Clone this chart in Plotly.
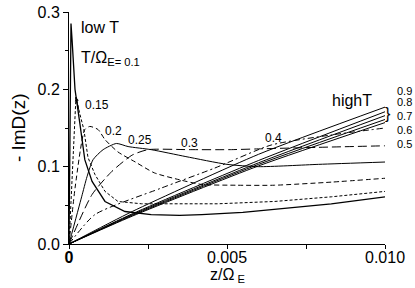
import plotly.graph_objects as go

# ---- data (z/Omega_E, -ImD(z)) ----
z_t010 = [0, 0.000063, 0.0001, 0.00013, 0.00019, 0.00035, 0.0005, 0.00073, 0.00114, 0.00177, 0.0026, 0.0035, 0.0042, 0.0055, 0.0065, 0.0083, 0.01]
v_t010 = [0, 0.285, 0.262, 0.238, 0.2, 0.154, 0.109, 0.081, 0.055, 0.042, 0.038, 0.037, 0.038, 0.041, 0.045, 0.052, 0.061]

z_t015 = [0, 0.00022, 0.00035, 0.00047, 0.0006, 0.00082, 0.00114, 0.00155, 0.0023, 0.0031, 0.0047, 0.0065, 0.0083, 0.01]
v_t015 = [0, 0.19, 0.167, 0.148, 0.112, 0.09, 0.068, 0.055, 0.052, 0.052, 0.052, 0.055, 0.061, 0.068]

z_t020 = [0, 0.0002, 0.0005, 0.00066, 0.00092, 0.00114, 0.00155, 0.0021, 0.0027, 0.0035, 0.0042, 0.0053, 0.0065, 0.0083, 0.01]
v_t020 = [0, 0.075, 0.148, 0.152, 0.148, 0.135, 0.119, 0.106, 0.092, 0.083, 0.077, 0.076, 0.076, 0.08, 0.085]

z_t025 = [0, 0.0004, 0.00057, 0.00076, 0.00108, 0.0015, 0.00187, 0.0026, 0.0037, 0.005, 0.006, 0.0079, 0.01]
v_t025 = [0, 0.061, 0.087, 0.109, 0.122, 0.13, 0.126, 0.122, 0.113, 0.103, 0.1, 0.103, 0.106]

z_t030 = [0, 0.00073, 0.00136, 0.002, 0.0025, 0.0038, 0.0051, 0.006, 0.0079, 0.01]
v_t030 = [0, 0.064, 0.094, 0.115, 0.122, 0.122, 0.122, 0.123, 0.125, 0.127]

z_t040 = [0, 0.00082, 0.0029, 0.0046, 0.0064, 0.0083, 0.01]
v_t040 = [0, 0.038, 0.072, 0.098, 0.128, 0.141, 0.15]

z_high = [0, 0.002, 0.006, 0.01]
v_t050 = [0, 0.036, 0.101, 0.157]
v_t060 = [0, 0.037, 0.103, 0.161]
v_t070 = [0, 0.038, 0.105, 0.166]
v_t080 = [0, 0.039, 0.108, 0.171]
v_t090 = [0, 0.042, 0.116, 0.177]

x_tick_vals = [0, 0.005, 0.01]
x_tick_text = ["<b>0</b>", "0.005", "0.010"]
y_tick_vals = [0.0, 0.1, 0.2, 0.3]
y_tick_text = ["0.0", "0.1", "0.2", "0.3"]

curve_labels = ["0.15", "0.2", "0.25", "0.3", "0.4"]
right_labels = ["0.9", "0.8", "0.7", "0.6", "0.5"]

FONT = "Liberation Sans, Arial, sans-serif"

series = [
    ("0.1", z_t010, v_t010, "solid", 1.3),
    ("0.15", z_t015, v_t015, "3px,2px", 1),
    ("0.2", z_t020, v_t020, "5px,3px", 1),
    ("0.25", z_t025, v_t025, "solid", 1),
    ("0.3", z_t030, v_t030, "9px,4px", 1),
    ("0.4", z_t040, v_t040, "6px,3px,2px,3px", 1),
    ("0.5", z_high, v_t050, "solid", 1),
    ("0.6", z_high, v_t060, "solid", 1),
    ("0.7", z_high, v_t070, "solid", 1),
    ("0.8", z_high, v_t080, "solid", 1),
    ("0.9", z_high, v_t090, "solid", 1),
]

fig = go.Figure()
for name, zs, vs, dash, w in series:
    fig.add_trace(go.Scatter(
        x=zs, y=vs, mode="lines", name=name,
        line=dict(color="black", width=w, dash=dash,
                  shape="linear" if name in ("0.1", "0.15") else "spline", smoothing=0.6),
        showlegend=False, cliponaxis=True, hoverinfo="skip",
    ))

ann = []
def txt(x, y, t, size=11, xanchor="center", ref="data", angle=0):
    p = ref == "paper"
    ann.append(dict(x=x, y=y, xref="paper" if p else "x", yref="paper" if p else "y",
                    text=t, showarrow=False, textangle=angle,
                    font=dict(family=FONT, size=size, color="black"),
                    xanchor=xanchor, yanchor="middle"))

txt(0.00098, 0.280, "low T", 16)
txt(0.00033, 0.240, "T/Ω<sub>E= 0.1</sub>", 16, "left")
label_pos = [(0.00089, 0.180), (0.00142, 0.146), (0.00225, 0.135), (0.0038, 0.130), (0.00646, 0.137)]
for t, (x, y) in zip(curve_labels, label_pos):
    txt(x, y, t, 12)
txt(0.00896, 0.186, "highT", 16)
right_y = [0.659, 0.610, 0.552, 0.491, 0.429]
for t, y in zip(right_labels, right_y):
    txt(1.063, y, t, 11, ref="paper")
txt(1.010, 0.563, "}", 16, ref="paper")

# axis titles
txt(-0.161, 0.50, "- ImD(z)", 19, ref="paper", angle=-90)
txt(0.503, -0.135, "z/Ω<sub> E</sub>", 16, ref="paper")

# small arrow head at the 0.15 peak
ann.append(dict(x=0.00022, y=0.19, xref="x", yref="y", text="", showarrow=True,
                arrowhead=2, arrowsize=0.8, arrowwidth=1, arrowcolor="black", ax=3, ay=14))

fig.update_layout(
    width=415, height=288,
    margin=dict(l=69, r=30, t=12, b=44),
    paper_bgcolor="white", plot_bgcolor="white",
    font=dict(family=FONT, size=16, color="black"),
    annotations=ann,
    hovermode=False,
    xaxis=dict(
        range=[0, 0.01], tickvals=x_tick_vals, ticktext=x_tick_text, automargin=False,
        showline=True, linecolor="black", linewidth=1, mirror=False,
        ticks="outside", ticklen=4, tickcolor="black", showgrid=False, zeroline=False,
        tickfont=dict(family=FONT, size=16), ticklabelstandoff=-5,
        minor=dict(dtick=0.0025, ticks="outside", ticklen=4, tickcolor="black"),
    ),
    yaxis=dict(
        range=[0, 0.3], tickvals=y_tick_vals, ticktext=y_tick_text, automargin=False,
        showline=True, linecolor="black", linewidth=1,
        ticks="outside", ticklen=5, tickcolor="black", showgrid=False, zeroline=False,
        tickfont=dict(family=FONT, size=16),
        minor=dict(dtick=0.05, ticks="outside", ticklen=3, tickcolor="black"),
    ),
)

fig.write_html(
    "out.html",
    config={"displayModeBar": False},
    post_script="document.body.style.margin='0';document.body.style.overflow='hidden';",
)
